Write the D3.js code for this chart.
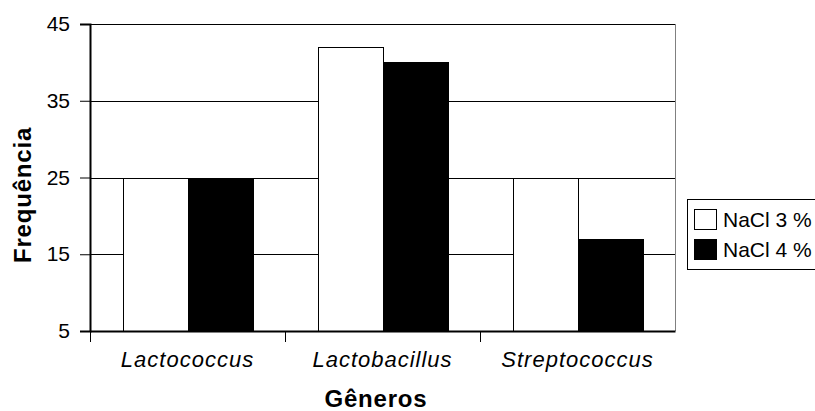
<!DOCTYPE html>
<html>
<head>
<meta charset="utf-8">
<script src="https://cdn.jsdelivr.net/npm/d3@7"></script>
<style>
  body { margin: 0; background: #fff; }
  text { font-family: "Liberation Sans", Arial, sans-serif; fill: #000; }
</style>
</head>
<body>
<div id="chart"></div>
<script>
// data
const generos = ["Lactococcus", "Lactobacillus", "Streptococcus"];
const series = ["NaCl 3 %", "NaCl 4 %"];
const nacl3 = [25, 42, 25];
const nacl4 = [25, 40, 17];
const yTicks = [5, 15, 25, 35, 45];
const seriesColor = ["#ffffff", "#000000"];
const FONT = "'Liberation Sans', Arial, sans-serif";

const width = 815, height = 411;
const margin = { top: 24, right: 140, bottom: 80, left: 90 };
const plotW = width - margin.left - margin.right;
const plotH = height - margin.top - margin.bottom;

const svg = d3.select("#chart").append("svg")
    .attr("width", width)
    .attr("height", height);

const g = svg.append("g")
    .attr("transform", `translate(${margin.left},${margin.top})`);

const x = d3.scaleBand()
    .domain(generos)
    .range([0, plotW])
    .paddingInner(0)
    .paddingOuter(0);

const xSub = d3.scaleBand()
    .domain(series)
    .range([0, x.bandwidth()])
    .paddingInner(0)
    .paddingOuter(0.5);

const y = d3.scaleLinear()
    .domain([5, 45])
    .range([plotH, 0]);

// gridlines
g.append("g")
    .selectAll("line")
    .data(yTicks.filter(d => d > 5))
    .join("line")
    .attr("x1", 0)
    .attr("x2", plotW)
    .attr("y1", d => Math.round(y(d)) + 0.5)
    .attr("y2", d => Math.round(y(d)) + 0.5)
    .attr("stroke", "#000")
    .attr("stroke-width", 1);

// right border of plot area
g.append("line")
    .attr("x1", plotW + 0.5).attr("x2", plotW + 0.5)
    .attr("y1", 0).attr("y2", plotH)
    .attr("stroke", "#808080");

// bars
const rows = generos.map((k, i) => ({ key: k, values: [nacl3[i], nacl4[i]] }));

g.append("g")
    .selectAll("g")
    .data(rows)
    .join("g")
    .attr("transform", d => `translate(${x(d.key)},0)`)
    .selectAll("rect")
    .data(d => d.values.map((v, j) => ({ s: series[j], v: v, j: j })))
    .join("rect")
    .attr("x", d => Math.round(xSub(d.s)) + 0.5)
    .attr("y", d => Math.round(y(d.v)) + 0.5)
    .attr("width", xSub.bandwidth())
    .attr("height", d => plotH - Math.round(y(d.v)))
    .attr("fill", d => seriesColor[d.j])
    .attr("stroke", "#000")
    .attr("stroke-width", 1);

// y axis
const yAxis = g.append("g")
    .call(d3.axisLeft(y).tickValues(yTicks).tickSize(10).tickPadding(10));
yAxis.attr("font-family", null);
yAxis.select(".domain").attr("stroke-width", 2);
yAxis.selectAll(".tick line").attr("stroke", "#000");
yAxis.selectAll("text")
    .style("font-size", "21px")
    .style("font-family", FONT);

// x axis
const xAxis = g.append("g")
    .attr("transform", `translate(0,${plotH})`)
    .call(d3.axisBottom(x).tickSize(0).tickPadding(20));
xAxis.attr("font-family", null);
xAxis.select(".domain").attr("stroke-width", 2);
xAxis.selectAll("text")
    .style("font-size", "22px")
    .style("font-style", "italic")
    .style("letter-spacing", "1px")
    .style("font-family", FONT);

// category separator ticks below the axis
xAxis.append("g")
    .selectAll("line")
    .data(generos)
    .join("line")
    .attr("x1", d => x(d) + 0.5)
    .attr("x2", d => x(d) + 0.5)
    .attr("y1", 0)
    .attr("y2", 11)
    .attr("stroke", "#000");

// axis titles
svg.append("text")
    .attr("x", 376)
    .attr("y", 407)
    .attr("text-anchor", "middle")
    .style("font-family", FONT)
    .style("font-size", "24px")
    .style("font-weight", "bold")
    .style("letter-spacing", "0.8px")
    .text("Gêneros");

svg.append("text")
    .attr("transform", "translate(31,195)rotate(-90)")
    .attr("text-anchor", "middle")
    .style("font-family", FONT)
    .style("font-size", "24px")
    .style("font-weight", "bold")
    .style("letter-spacing", "0.8px")
    .text("Frequência");

// legend
const legend = svg.append("g")
    .attr("transform", "translate(687,199)");

legend.append("rect")
    .attr("x", 0.5).attr("y", 0.5)
    .attr("width", 140).attr("height", 70)
    .attr("fill", "#fff")
    .attr("stroke", "#000");

const item = legend.selectAll("g.item")
    .data(series)
    .join("g")
    .attr("class", "item")
    .attr("transform", (d, i) => `translate(7,${10 + i * 30})`);

item.append("rect")
    .attr("x", 0.5).attr("y", 0.5)
    .attr("width", 22).attr("height", 20)
    .attr("fill", (d, i) => seriesColor[i])
    .attr("stroke", "#000");

item.append("text")
    .attr("x", 29)
    .attr("y", 11)
    .attr("dy", "0.35em")
    .style("font-family", FONT)
    .style("font-size", "21px")
    .text(d => d);
</script>
</body>
</html>
